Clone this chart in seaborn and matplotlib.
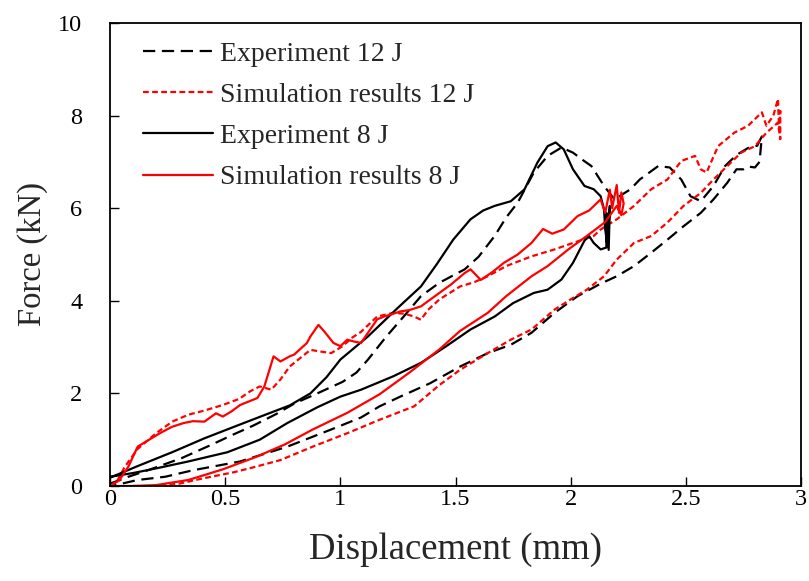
import numpy as np
import pandas as pd
import matplotlib
matplotlib.use("Agg")
import matplotlib.pyplot as plt
import seaborn as sns

# ---------------- data ----------------
# Experiment 12 J (black dashed): loading branch then unloading branch
exp12_x = [0, 0.08, 0.17, 0.31, 0.44, 0.53, 0.62, 0.72, 0.80, 0.90, 1.01, 1.07, 1.12, 1.20,
           1.275, 1.35, 1.43, 1.54, 1.60, 1.67, 1.72, 1.77, 1.84, 1.90, 1.96, 2.01, 2.05, 2.09,
           2.145, 2.19, 2.26, 2.30, 2.38, 2.43, 2.48, 2.52, 2.565, 2.62, 2.67, 2.72, 2.77, 2.81,
           2.83, 2.82, 2.80, 2.77, 2.75, 2.72, 2.68, 2.62, 2.565, 2.49, 2.42, 2.35, 2.275, 2.20,
           2.13, 2.03, 1.93, 1.83, 1.74, 1.64, 1.52, 1.39, 1.26, 1.17, 1.09, 0.96, 0.77, 0.565,
           0.36, 0.24, 0.12, 0.05, 0]
exp12_y = [0.05, 0.2, 0.35, 0.60, 0.89, 1.10, 1.30, 1.55, 1.78, 2.0, 2.25, 2.45, 2.73, 3.23,
           3.66, 4.10, 4.39, 4.68, 4.95, 5.40, 5.80, 6.12, 6.77, 7.13, 7.31, 7.20, 7.05, 6.91,
           6.48, 6.19, 6.41, 6.62, 6.91, 6.88, 6.62, 6.26, 6.15, 6.48, 6.91, 7.15, 7.30, 7.35,
           7.55, 7.00, 6.88, 6.90, 6.84, 6.84, 6.55, 6.19, 5.90, 5.61, 5.32, 5.04, 4.75, 4.53,
           4.37, 4.10, 3.74, 3.31, 3.05, 2.87, 2.58, 2.22, 1.93, 1.72, 1.48, 1.22, 0.85, 0.53,
           0.34, 0.20, 0.13, 0.05, 0]

# Simulation results 12 J (red dashed)
sim12_x = [0, 0.03, 0.065, 0.12, 0.2, 0.27, 0.34, 0.41, 0.49, 0.56, 0.61, 0.65, 0.70, 0.74,
           0.78, 0.83, 0.87, 0.92, 0.96, 1.01, 1.05, 1.09, 1.16, 1.23, 1.28, 1.32, 1.35, 1.38,
           1.43, 1.52, 1.58, 1.64, 1.72, 1.83, 1.93, 2.01, 2.10, 2.13, 2.20, 2.275, 2.35, 2.42,
           2.48, 2.54, 2.565, 2.59, 2.64, 2.71, 2.77, 2.83, 2.85, 2.88, 2.90, 2.905, 2.91, 2.91,
           2.90, 2.85, 2.80, 2.74, 2.68, 2.62, 2.565, 2.49, 2.42, 2.35, 2.275, 2.20, 2.145, 2.07,
           2.0, 1.93, 1.83, 1.74, 1.64, 1.52, 1.43, 1.32, 1.17, 1.03, 0.88, 0.74, 0.62, 0.54,
           0.39, 0.30, 0.2, 0.1]
sim12_y = [0, 0.1, 0.42, 0.80, 1.14, 1.39, 1.54, 1.63, 1.75, 1.88, 2.05, 2.15, 2.08, 2.30,
           2.58, 2.78, 2.94, 2.90, 2.87, 3.02, 3.20, 3.33, 3.66, 3.74, 3.72, 3.66, 3.59, 3.80,
           4.03, 4.31, 4.40, 4.53, 4.75, 4.96, 5.11, 5.25, 5.40, 5.54, 5.76, 6.05, 6.41, 6.62,
           7.02, 7.13, 6.84, 6.77, 7.34, 7.63, 7.78, 8.07, 7.78, 8.00, 8.36, 7.70, 8.10, 7.49,
           7.85, 7.63, 7.34, 7.20, 6.91, 6.62, 6.33, 6.05, 5.69, 5.40, 5.25, 4.89, 4.53, 4.24,
           4.03, 3.81, 3.38, 3.16, 2.87, 2.51, 2.18, 1.72, 1.43, 1.14, 0.85, 0.56, 0.40, 0.30,
           0.15, 0.05, 0.0, 0.0]

# Experiment 8 J (black solid)
exp8_x = [0, 0.12, 0.27, 0.41, 0.56, 0.68, 0.78, 0.87, 0.94, 1.0, 1.12, 1.25, 1.35, 1.42,
          1.49, 1.565, 1.62, 1.67, 1.74, 1.80, 1.855, 1.90, 1.935, 1.97, 2.01, 2.06, 2.10, 2.13,
          2.145, 2.15, 2.16, 2.17, 2.165, 2.155, 2.155, 2.13, 2.10, 2.08, 2.06, 2.01, 1.96, 1.90,
          1.84, 1.75, 1.67, 1.565, 1.46, 1.35, 1.23, 1.09, 1.0, 0.9, 0.77, 0.65, 0.51, 0.34,
          0.2, 0.1, 0]
exp8_y = [0.18, 0.43, 0.73, 1.03, 1.32, 1.55, 1.74, 2.0, 2.35, 2.73, 3.23, 3.85, 4.31, 4.80,
          5.32, 5.76, 5.95, 6.05, 6.15, 6.41, 6.98, 7.34, 7.42, 7.27, 6.84, 6.48, 6.41, 6.26,
          5.97, 5.54, 5.18, 6.05, 5.10, 5.90, 5.15, 5.11, 5.25, 5.40, 5.30, 4.82, 4.46, 4.24,
          4.17, 3.95, 3.66, 3.38, 3.02, 2.66, 2.37, 2.08, 1.93, 1.70, 1.36, 1.00, 0.73, 0.53,
          0.38, 0.28, 0.2]

# Simulation results 8 J (red solid)
sim8_x = [0, 0.04, 0.08, 0.12, 0.17, 0.22, 0.27, 0.32, 0.36, 0.41, 0.46, 0.49, 0.53, 0.565,
          0.64, 0.67, 0.71, 0.74, 0.78, 0.80, 0.855, 0.87, 0.905, 0.93, 0.97, 1.0, 1.03, 1.06,
          1.09, 1.12, 1.16, 1.19, 1.23, 1.26, 1.30, 1.35, 1.43, 1.48, 1.54, 1.565, 1.61, 1.66,
          1.71, 1.77, 1.83, 1.88, 1.92, 1.97, 2.03, 2.08, 2.13, 2.15, 2.17, 2.18, 2.20, 2.21,
          2.22, 2.23, 2.22, 2.20, 2.15, 2.07, 1.99, 1.90, 1.83, 1.72, 1.64, 1.52, 1.43, 1.30,
          1.17, 1.03, 0.88, 0.76, 0.63, 0.49, 0.34, 0.2, 0.1, 0.03]
sim8_y = [0, 0.12, 0.42, 0.85, 1.0, 1.15, 1.28, 1.36, 1.40, 1.39, 1.57, 1.50, 1.62, 1.75,
          1.90, 2.15, 2.80, 2.69, 2.80, 2.84, 3.09, 3.23, 3.48, 3.34, 3.09, 3.02, 3.16, 3.12,
          3.09, 3.31, 3.60, 3.66, 3.72, 3.77, 3.80, 3.88, 4.17, 4.35, 4.60, 4.68, 4.45, 4.62,
          4.82, 5.00, 5.25, 5.55, 5.45, 5.54, 5.83, 5.95, 6.19, 5.90, 6.40, 6.00, 6.50, 5.90,
          6.34, 6.10, 5.85, 6.05, 5.70, 5.40, 5.11, 4.75, 4.53, 4.10, 3.74, 3.35, 2.95, 2.45,
          1.98, 1.58, 1.22, 0.90, 0.62, 0.36, 0.13, 0.02, 0.0, 0.0]

labels = ["Experiment 12 J", "Simulation results 12 J", "Experiment 8 J", "Simulation results 8 J"]
x_ticks = [0, 0.5, 1, 1.5, 2, 2.5, 3]
x_ticklabels = ["0", "0.5", "1", "1.5", "2", "2.5", "3"]
y_ticks = [0, 2, 4, 6, 8, 10]

# ---------------- plotting ----------------
sns.set_style("ticks")
plt.rcParams["font.family"] = ["Liberation Serif", "DejaVu Serif"]

fig = plt.figure(figsize=(8.09, 5.81), dpi=100)
ax = fig.add_axes([110 / 809, 1 - 486 / 581, (801 - 110) / 809, (486 - 23) / 581])

series = [
    (exp12_x, exp12_y, labels[0], "black", (0, (5.5, 3.0))),
    (sim12_x, sim12_y, labels[1], "#ff0000", (0, (2.6, 1.5))),
    (exp8_x, exp8_y, labels[2], "black", "-"),
    (sim8_x, sim8_y, labels[3], "#ff0000", "-"),
]
for xs, ys, lab, col, ls in series:
    df = pd.DataFrame({"Displacement": xs, "Force": ys})
    sns.lineplot(data=df, x="Displacement", y="Force", sort=False, estimator=None,
                 color=col, linestyle=ls, linewidth=1.6, label=lab, ax=ax)

ax.set_xlim(0, 3)
ax.set_ylim(0, 10)
ax.set_xticks(x_ticks)
ax.set_xticklabels(x_ticklabels)
ax.set_yticks(y_ticks)
ax.tick_params(axis="both", direction="in", length=6.5, width=1.0, labelsize=17.5,
               colors="black")
ax.tick_params(axis="x", pad=2)
ax.tick_params(axis="y", pad=20)
for sp in ax.spines.values():
    sp.set_visible(True)
    sp.set_linewidth(1.3)
    sp.set_color("black")

ax.set_xlabel("Displacement (mm)", fontsize=26.5, labelpad=16)
ax.set_ylabel("Force (kN)", fontsize=23.5, labelpad=7)

leg = ax.legend(loc="upper left", bbox_to_anchor=(0.032, 0.985), frameon=False,
                fontsize=20, handlelength=2.5, handletextpad=0.28, labelspacing=0.57,
                borderaxespad=0)

fig.savefig("out.png", dpi=100)
